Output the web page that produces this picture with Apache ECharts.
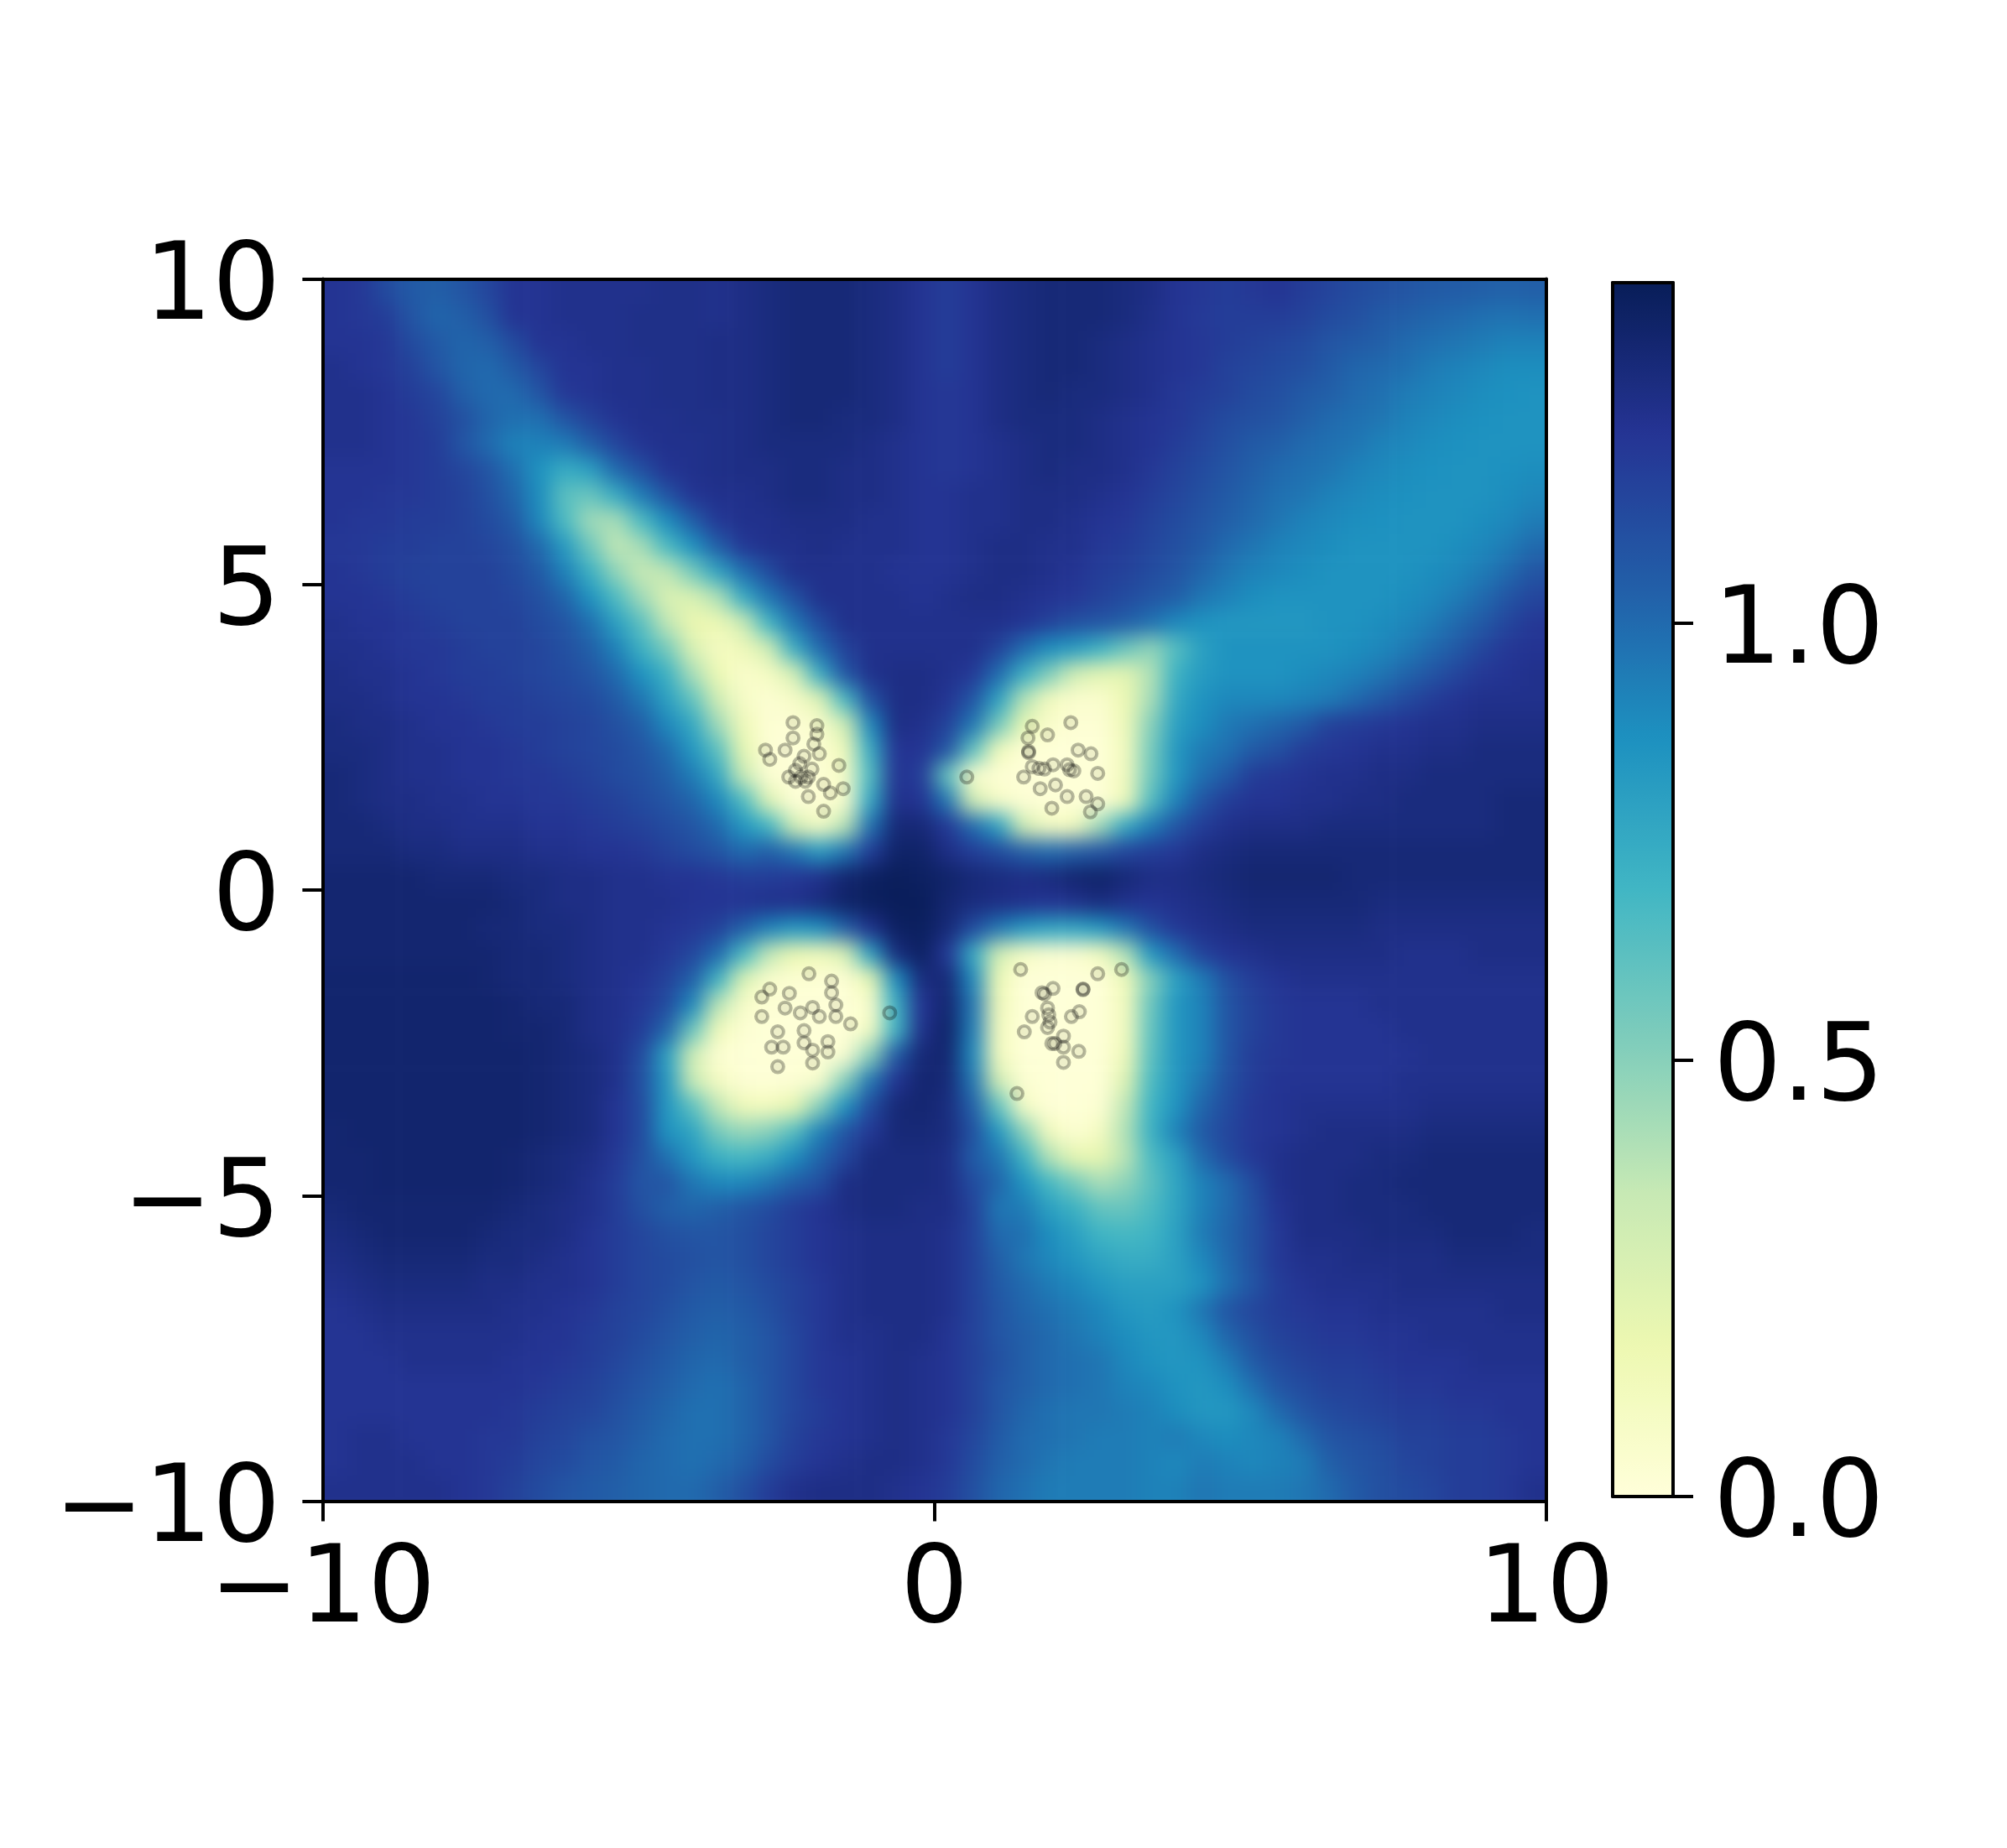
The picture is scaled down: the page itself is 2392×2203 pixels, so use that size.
<!DOCTYPE html>
<html>
<head>
<meta charset="utf-8">
<title>chart</title>
<style>
html,body{margin:0;padding:0;background:#fff;}
#chart{width:2392px;height:2203px;}
/* heatmap is alone on layer 0: soften the cells like the upsampled original, cut at the plot box */
#chart canvas[data-zr-dom-id="zr_0"]{filter:blur(12px);clip-path:inset(333px 549px 413px 384px);}
</style>
<script src="https://cdn.jsdelivr.net/npm/echarts@6/dist/echarts.min.js"></script>
</head>
<body>
<div id="chart"></div>
<script>
var xTicks = [-10, 0, 10];
var yTicks = [-10, -5, 0, 5, 10];
var barTicks = [0, 0.5, 1];
var barMax = 1.39;
var palette = ['#ffffd9','#edf8b1','#c7e9b4','#7fcdbb','#41b6c4','#1d91c0','#225ea8','#253494','#081d58'];

// values, in hundredths, top row first, x from -10 to 10
var field = [
[122,120,112,106,104,108,114,122,122,124,124,124,124,125,125,124,126,128,130,130,130,128,126,122,118,122,126,128,130,130,130,128,126,122,120,118,120,122,118,115,112,110,108,106,105,104,103,104],
[122,120,118,108,102,104,110,122,122,124,124,124,125,125,125,124,126,128,130,130,130,128,126,122,118,122,126,128,130,130,130,128,125,122,119,118,118,118,116,112,110,106,104,102,100,98,97,98],
[122,122,120,112,106,102,104,112,122,122,124,124,125,125,125,126,126,128,130,130,130,128,126,122,118,122,126,128,130,130,128,126,124,122,120,118,116,114,112,108,106,104,100,98,96,94,92,92],
[124,122,120,116,108,102,100,106,114,122,122,124,124,125,125,126,126,128,130,130,130,128,126,122,118,122,126,128,130,130,128,126,124,122,120,116,114,112,110,106,102,100,98,94,92,90,88,88],
[124,124,122,118,114,104,100,100,108,120,122,124,124,125,125,126,126,128,130,130,130,128,126,122,120,122,126,128,130,128,128,126,124,120,118,116,112,110,106,104,100,98,94,92,90,88,87,86],
[124,124,122,120,116,110,102,98,98,108,116,122,124,124,125,125,126,128,130,130,128,128,126,122,120,122,126,128,128,128,126,124,122,120,116,112,110,108,104,100,98,96,92,90,88,87,86,86],
[124,124,122,120,118,108,100,92,92,94,104,114,122,124,124,125,126,128,128,128,128,126,124,122,120,122,124,126,128,128,126,124,122,118,114,110,106,104,100,98,96,92,90,88,87,86,86,86],
[122,122,122,120,118,114,108,98,86,74,80,100,110,122,124,125,126,126,128,128,126,126,124,122,120,122,124,126,128,126,126,124,120,116,112,108,104,100,98,96,92,90,88,87,86,86,87,88],
[122,122,120,120,118,116,110,102,88,62,58,74,94,108,122,124,124,126,128,128,126,126,124,122,122,124,124,126,126,126,124,122,118,114,110,106,102,98,96,92,90,88,87,86,86,86,88,90],
[122,120,120,118,118,116,112,106,90,66,44,42,66,88,104,120,124,124,126,126,126,124,124,122,122,124,124,126,126,124,122,120,116,112,108,104,100,96,92,90,88,87,86,86,86,88,90,94],
[120,120,118,118,116,116,114,110,100,82,56,36,42,66,86,104,120,124,124,126,124,124,124,122,122,124,126,126,124,124,120,118,114,110,106,100,96,92,90,88,86,86,86,86,88,90,94,100],
[122,120,118,116,116,116,116,112,106,92,72,48,34,36,54,78,98,112,124,124,124,124,122,122,122,124,126,126,124,122,118,116,112,108,102,96,92,90,88,86,86,86,86,88,90,94,100,108],
[122,122,120,118,116,116,116,114,110,102,86,66,44,26,26,40,74,96,110,124,124,124,124,122,124,126,126,124,122,120,116,112,108,104,96,92,88,86,86,86,86,86,88,90,94,100,108,114],
[124,122,122,120,118,116,116,116,112,108,98,80,62,36,18,16,32,70,96,112,124,124,124,124,124,124,124,122,116,110,108,104,98,90,86,84,84,84,84,86,86,88,90,94,100,106,114,120],
[124,124,122,120,120,118,116,116,114,110,104,92,72,54,26,10,14,30,74,100,116,124,124,124,124,124,116,100,88,82,72,58,48,64,80,86,86,86,86,86,88,90,94,100,106,114,120,122],
[126,124,124,122,120,118,118,116,114,112,108,100,86,72,42,16,6,10,28,74,108,124,126,126,124,120,100,74,52,30,22,22,40,72,82,86,86,86,88,90,92,96,102,108,114,120,122,124],
[126,126,124,122,122,120,118,118,116,114,112,106,96,80,60,30,8,3,8,24,68,110,126,126,122,108,80,40,12,5,5,16,42,76,86,90,90,90,92,94,100,106,112,118,122,124,124,124],
[128,126,126,124,122,122,120,118,118,116,114,110,104,90,76,44,14,2,2,6,30,90,126,124,116,96,56,20,6,2,2,14,50,80,88,95,98,102,106,116,118,120,122,124,124,126,126,126],
[128,128,126,124,124,122,122,120,118,116,114,112,108,100,84,62,20,2,1,3,14,74,122,122,108,62,14,2,1,1,1,12,54,84,94,98,106,110,118,120,122,124,124,126,126,128,128,128],
[130,128,126,124,124,122,122,120,120,118,116,112,110,104,94,76,34,3,1,2,8,66,122,118,60,6,2,1,1,1,1,12,56,84,98,106,118,120,122,124,124,126,126,128,128,128,128,128],
[130,128,126,126,124,124,122,122,120,120,118,116,112,108,102,90,66,24,1,2,6,76,124,122,96,30,8,2,1,1,1,14,64,92,108,118,122,122,124,124,126,126,128,128,128,128,130,130],
[130,130,128,126,126,124,124,124,122,122,120,118,116,112,108,100,84,70,30,10,38,98,130,130,120,100,80,30,10,12,44,76,94,108,118,124,126,126,126,128,128,128,128,128,128,128,130,130],
[130,130,130,128,128,126,126,126,124,124,122,122,120,116,112,108,100,104,96,82,96,118,134,134,126,118,112,104,100,104,108,114,118,120,126,128,130,130,130,130,130,130,130,130,130,130,130,130],
[132,132,132,132,130,130,130,128,128,126,126,124,124,122,122,120,118,118,120,124,132,136,138,136,134,130,128,126,128,132,134,130,126,126,128,130,132,132,132,132,130,130,130,130,130,130,130,130],
[132,132,132,132,132,132,132,130,128,126,126,124,124,124,122,122,122,124,124,128,134,137,138,138,132,128,126,124,122,124,128,124,122,124,126,128,130,130,130,130,130,128,128,128,128,128,128,128],
[132,132,132,132,132,132,130,130,128,128,126,124,124,122,120,116,104,92,84,88,104,124,136,137,130,112,96,84,78,78,84,96,110,120,124,126,128,128,128,128,128,126,126,126,126,126,126,126],
[132,132,132,132,132,132,132,130,130,128,126,124,124,120,114,100,68,36,18,14,26,80,128,136,120,76,30,10,4,4,12,40,84,100,116,122,124,126,126,126,126,126,124,124,124,126,126,126],
[133,133,133,133,133,133,132,130,130,128,126,124,122,116,104,72,26,6,3,2,2,20,88,128,130,90,16,1,1,1,1,14,52,80,94,110,118,122,124,124,124,124,124,124,124,124,124,124],
[133,133,133,133,133,133,133,132,130,130,126,124,120,112,90,38,8,2,1,1,1,6,72,122,132,96,14,1,1,1,1,12,58,84,92,108,116,120,122,122,122,124,124,124,124,124,124,124],
[133,133,133,133,133,133,133,132,132,130,126,124,118,102,58,14,3,1,1,1,1,10,70,124,134,94,12,1,1,1,1,12,60,84,92,108,116,120,122,122,122,122,124,124,124,124,124,124],
[133,133,133,133,133,133,133,133,132,130,128,124,112,80,30,3,1,1,1,1,4,50,106,130,132,90,12,1,1,1,1,14,62,84,92,108,118,120,122,122,122,122,122,124,124,124,124,124],
[133,133,133,133,133,133,133,133,132,130,128,124,110,84,34,10,2,1,2,6,50,96,122,132,130,96,30,3,1,1,1,24,66,84,96,110,118,122,122,122,122,122,124,124,124,124,124,124],
[133,133,133,133,133,133,133,133,132,130,128,122,112,84,62,36,14,12,20,50,86,112,130,132,128,104,60,10,1,1,3,36,70,86,102,112,120,122,124,124,124,124,124,126,126,126,126,126],
[132,133,133,133,133,133,133,133,132,130,128,122,112,86,78,54,46,50,64,92,108,120,130,130,128,110,84,50,12,3,10,40,72,92,106,114,120,122,124,126,126,126,126,128,128,128,128,128],
[132,132,133,133,133,133,133,132,130,128,126,120,110,98,84,72,68,74,88,102,114,128,128,128,126,106,96,72,40,20,20,38,66,80,100,112,120,124,126,126,126,128,128,130,130,130,130,130],
[132,132,133,133,133,133,133,132,130,128,124,118,108,108,96,90,90,96,104,110,126,128,128,128,126,112,102,86,68,54,42,48,62,78,92,100,112,124,126,126,128,128,130,130,130,130,130,130],
[130,132,132,132,132,132,132,130,128,126,124,118,110,104,102,104,108,112,118,122,126,128,128,126,126,116,96,94,80,72,60,58,66,78,92,100,110,122,126,126,128,128,128,130,130,130,130,130],
[128,130,132,132,132,132,130,128,128,126,122,118,114,110,108,108,110,114,118,122,124,126,126,126,124,116,100,98,88,80,70,68,70,80,94,102,110,120,126,126,126,128,128,128,130,130,130,128],
[126,128,130,130,130,130,128,128,126,124,122,118,114,112,110,108,110,114,118,122,124,126,126,126,124,116,104,96,90,84,78,74,74,80,90,100,110,120,124,124,126,126,126,126,128,128,128,128],
[124,126,128,128,128,128,126,126,124,124,122,118,114,112,108,106,108,112,116,120,124,126,126,126,124,116,106,100,94,90,84,80,80,80,86,98,108,118,122,124,124,124,126,126,126,126,126,126],
[122,124,126,126,126,126,126,124,124,122,120,116,114,110,106,104,106,110,116,120,124,126,126,126,124,116,108,102,98,94,90,84,82,86,96,108,114,118,120,122,122,124,124,124,124,124,126,126],
[122,122,124,124,124,124,124,124,122,122,118,116,112,108,104,102,104,108,114,120,124,124,126,126,122,116,108,104,100,96,92,88,84,84,90,102,110,116,118,120,120,122,122,124,124,124,124,124],
[122,122,122,124,124,124,124,122,122,120,118,114,110,106,102,100,104,108,114,120,122,124,126,124,122,116,110,104,100,98,96,90,86,84,86,94,106,112,116,118,118,120,122,122,122,124,124,124],
[122,122,122,122,122,122,122,122,120,118,116,112,108,104,100,98,102,108,114,120,122,124,126,124,122,116,108,104,100,98,96,92,90,86,84,88,98,108,112,116,116,118,120,120,122,122,122,122],
[122,122,122,122,122,122,122,120,118,116,114,110,106,102,98,98,102,108,114,118,122,124,126,124,122,116,108,102,98,96,96,94,92,88,84,84,90,100,108,112,114,116,118,118,120,120,122,122],
[122,124,124,122,122,122,120,120,116,114,110,108,104,100,98,98,102,108,116,120,122,124,126,124,120,114,106,100,98,96,94,94,92,94,90,88,90,92,100,108,110,112,116,116,118,118,120,122],
[122,124,124,124,122,122,120,118,114,112,108,106,102,100,98,100,104,112,118,122,124,126,126,124,120,112,104,100,96,94,94,94,92,90,94,92,90,92,94,104,108,110,114,116,118,118,120,122],
[124,124,124,124,124,122,120,116,112,108,106,104,102,100,100,104,110,118,124,126,126,126,124,122,118,110,102,98,94,94,94,94,92,92,96,94,94,94,96,100,106,110,112,114,118,118,120,124]
];

var pointsUpperLeft = [[-2.31,2.74],[-1.92,2.69],[-1.92,2.55],[-2.31,2.49],[-1.97,2.39],[-2.76,2.29],[-2.69,2.14],[-2.44,2.29],[-1.88,2.23],[-2.13,2.19],[-1.56,2.04],[-2.2,2.07],[-2,1.98],[-2.27,1.96],[-2.38,1.85],[-2.18,1.85],[-2.06,1.85],[-2.27,1.78],[-2.11,1.78],[-1.81,1.73],[-1.7,1.59],[-1.49,1.66],[-2.06,1.53],[-1.81,1.29]];
var pointsUpperRight = [[1.6,2.68],[1.85,2.54],[2.23,2.74],[1.53,2.49],[1.54,2.27],[1.54,2.25],[2.35,2.29],[2.56,2.23],[1.6,2.02],[1.71,1.99],[1.8,1.98],[1.94,2.05],[1.46,1.85],[0.53,1.85],[2.17,2.05],[2.21,1.97],[2.28,1.95],[2.67,1.91],[1.73,1.66],[1.98,1.72],[2.17,1.53],[2.48,1.53],[2.67,1.41],[1.92,1.34],[2.55,1.28]];
var pointsLowerLeft = [[-2.05,-1.37],[-1.68,-1.49],[-1.68,-1.68],[-2.69,-1.62],[-2.82,-1.75],[-2.37,-1.69],[-2.44,-1.93],[-1.61,-1.88],[-1.99,-1.92],[-2.19,-2.01],[-1.88,-2.07],[-1.61,-2.07],[-2.82,-2.07],[-0.73,-2.01],[-1.37,-2.19],[-2.56,-2.32],[-2.13,-2.3],[-2.13,-2.5],[-2.66,-2.57],[-2.47,-2.57],[-1.99,-2.62],[-1.74,-2.48],[-1.74,-2.65],[-1.99,-2.83],[-2.56,-2.89]];
var pointsLowerRight = [[1.41,-1.3],[2.67,-1.37],[3.06,-1.3],[1.94,-1.61],[1.76,-1.68],[1.8,-1.7],[2.43,-1.62],[2.43,-1.63],[1.85,-1.93],[1.87,-2.04],[1.6,-2.07],[2.24,-2.07],[2.37,-1.99],[1.89,-2.16],[1.85,-2.25],[1.47,-2.32],[2.11,-2.39],[1.92,-2.51],[1.97,-2.51],[2.11,-2.57],[2.36,-2.64],[2.11,-2.82],[1.35,-3.33]];

// plot box in page pixels
var box = {left: 384.4, top: 332.6, width: 1458.4, height: 1456.9};
var bar = {left: 1922, top: 337, width: 72, height: 1447};
var fontBase = {fontFamily: 'DejaVu Sans', fontSize: 128, color: '#000'};
var lineBase = {show: true, onZero: false, lineStyle: {color: '#000', width: 4}};

// edge rows and columns are repeated once outside the box, only so the blur has no white rim
var padded = [field[0]].concat(field, [field[field.length - 1]]).map(function (row) {
    return [row[0]].concat(row, [row[row.length - 1]]);
});
var cols = padded[0].length, rows = padded.length;
var cellW = box.width / field[0].length, cellH = box.height / field.length;
var heatData = [];
padded.forEach(function (row, j) {
    row.forEach(function (v, i) { heatData.push([i, j, v / 100]); });
});
function range(n) { var a = []; for (var i = 0; i < n; i++) a.push(i); return a; }
function minus(v) { return String(v).replace('-', '\u2212'); }

function plainAxis(extra) {
    return Object.assign({
        zlevel: 1, z: 10, axisLine: lineBase, axisTick: {show: false}, axisLabel: {show: false}, splitLine: {show: false}
    }, extra);
}
function tickAxis(extra, margin, fmt, vals, labelExtra) {
    return Object.assign({
        zlevel: 1, z: 10, axisLine: lineBase,
        axisTick: {show: true, inside: false, length: 24, lineStyle: {color: '#000', width: 4}, customValues: vals},
        axisLabel: Object.assign({show: true, margin: margin, formatter: fmt, customValues: vals}, fontBase, labelExtra),
        splitLine: {show: false}
    }, extra);
}
// vertical labels sit a little below their tick in the original
var lowered = {verticalAlign: 'top', lineHeight: 28};

var myChart = echarts.init(document.getElementById('chart'), null, {renderer: 'canvas'});
myChart.setOption({
    animation: false,
    grid: [
        {left: box.left, top: box.top, width: box.width, height: box.height},
        {left: box.left - cellW, top: box.top - cellH, width: box.width + 2 * cellW, height: box.height + 2 * cellH},
        {left: bar.left, top: bar.top, width: bar.width, height: bar.height}
    ],
    xAxis: [
        tickAxis({type: 'value', gridIndex: 0, position: 'bottom', min: -10, max: 10}, 46, minus, xTicks, {}),
        plainAxis({type: 'value', gridIndex: 0, position: 'top', min: -10, max: 10}),
        {type: 'category', gridIndex: 1, show: false, data: range(cols)},
        plainAxis({type: 'value', gridIndex: 2, position: 'bottom', min: 0, max: 1}),
        plainAxis({type: 'value', gridIndex: 2, position: 'top', min: 0, max: 1})
    ],
    yAxis: [
        tickAxis({type: 'value', gridIndex: 0, position: 'left', min: -10, max: 10}, 50, minus, yTicks, lowered),
        plainAxis({type: 'value', gridIndex: 0, position: 'right', min: -10, max: 10}),
        {type: 'category', gridIndex: 1, show: false, inverse: true, data: range(rows)},
        plainAxis({type: 'value', gridIndex: 2, position: 'left', min: 0, max: barMax}),
        tickAxis({type: 'value', gridIndex: 2, position: 'right', min: 0, max: barMax}, 48, function (v) { return Number(v).toFixed(1); }, barTicks, lowered)
    ],
    visualMap: {
        type: 'continuous', seriesIndex: 0, min: 0, max: barMax, calculable: false,
        left: bar.left, top: bar.top, itemWidth: bar.width, itemHeight: bar.height,
        padding: 0, text: null, showLabel: false, zlevel: 1, z: 4,
        inRange: {color: palette}
    },
    series: [
        {type: 'heatmap', xAxisIndex: 2, yAxisIndex: 2, data: heatData, progressive: 0, zlevel: 0, itemStyle: {borderWidth: 0}},
        {
            type: 'scatter', xAxisIndex: 0, yAxisIndex: 0, zlevel: 1, z: 5, symbolSize: 14,
            data: pointsUpperLeft.concat(pointsUpperRight, pointsLowerLeft, pointsLowerRight),
            itemStyle: {color: 'rgba(0,0,0,0.08)', borderColor: 'rgba(0,0,0,0.34)', borderWidth: 4}
        }
    ]
});
</script>
</body>
</html>
